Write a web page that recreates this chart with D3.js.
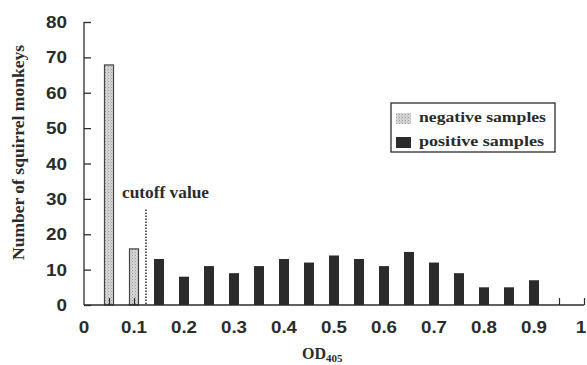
<!DOCTYPE html>
<html><head><meta charset="utf-8">
<script src="https://cdn.jsdelivr.net/npm/d3@7"></script>
<style>body{margin:0;background:#fff}svg{display:block}</style>
</head><body>
<svg id="c" width="587" height="365"></svg>
<script>
const negX = [0.05, 0.1];
const negVals = [68, 16];
const posX = [0.15,0.2,0.25,0.3,0.35,0.4,0.45,0.5,0.55,0.6,0.65,0.7,0.75,0.8,0.85,0.9];
const posVals = [13,8,11,9,11,13,12,14,13,11,15,12,9,5,5,7];
const xTickVals = [0,0.1,0.2,0.3,0.4,0.5,0.6,0.7,0.8,0.9,1];
const xTickLabels = ["0","0.1","0.2","0.3","0.4","0.5","0.6","0.7","0.8","0.9","1"];
const yTickVals = [0,10,20,30,40,50,60,70,80];
const cutoffX = 0.124, cutoffTop = 27;
const legendLabels = ["negative samples","positive samples"];

const svg = d3.select("#c");
const x = d3.scaleLinear().domain([0,1]).range([84,584]);
const y = d3.scaleLinear().domain([0,80]).range([305,22]);
const bw = x(0.02)-x(0);
const ink = "#2b2b2b";
const numLen = s => [...s].reduce((a,c)=>a+(c==="."?5:10.5),0);

// stipple pattern for negative bars
const defs = svg.append("defs");
const pat = defs.append("pattern").attr("id","stip").attr("patternUnits","userSpaceOnUse").attr("width",3).attr("height",3);
pat.append("rect").attr("width",3).attr("height",3).attr("fill","#d6d6d6");
pat.append("rect").attr("x",0).attr("y",0).attr("width",1).attr("height",1).attr("fill","#9a9a9a");
pat.append("rect").attr("x",2).attr("y",1.5).attr("width",1).attr("height",1).attr("fill","#b0b0b0");

// bars
svg.append("g").selectAll("rect").data(negX.map((d,i)=>({x:d,v:negVals[i]}))).join("rect")
  .attr("x",d=>x(d.x)-bw/2+0.5).attr("y",d=>y(d.v)+0.5)
  .attr("width",bw-1).attr("height",d=>y(0)-y(d.v)-0.5)
  .attr("fill","url(#stip)").attr("stroke","#444").attr("stroke-width",1.2);
svg.append("g").selectAll("rect").data(posX.map((d,i)=>({x:d,v:posVals[i]}))).join("rect")
  .attr("x",d=>x(d.x)-bw/2).attr("y",d=>y(d.v))
  .attr("width",bw).attr("height",d=>y(0)-y(d.v))
  .attr("fill",ink);

// y axis
const yAxis = d3.axisRight(y).tickValues(yTickVals).tickSize(7).tickFormat("");
const ga = svg.append("g").attr("transform",`translate(${x(0)},0)`).call(yAxis);
ga.select(".domain").attr("d",`M0,${y(80)}V${y(0)}`).attr("stroke",ink).attr("stroke-width",1.3);
ga.selectAll(".tick line").attr("stroke",ink).attr("stroke-width",1.3);
svg.append("g").selectAll("text").data(yTickVals).join("text")
  .attr("x",67).attr("y",d=>y(d)+6).attr("text-anchor","end")
  .attr("textLength",d=>numLen(String(d))).attr("lengthAdjust","spacingAndGlyphs")
  .attr("font-family","Liberation Sans, Arial, sans-serif").attr("font-size",16).attr("font-weight","bold")
  .attr("fill",ink).text(d=>d);

// x axis
const xtv = d3.range(1,21).map(i=>i*0.05);
const xAxis = d3.axisTop(x).tickValues(xtv).tickSize(7).tickFormat("");
const gx = svg.append("g").attr("transform",`translate(0,${y(0)})`).call(xAxis);
gx.select(".domain").attr("d",`M${x(0)},0H${x(1)}`).attr("stroke",ink).attr("stroke-width",1.3);
gx.selectAll(".tick line").attr("stroke",ink).attr("stroke-width",1.2);
svg.append("g").selectAll("text").data(xTickVals).join("text")
  .attr("x",(d)=>Math.min(x(d),581)).attr("y",333).attr("text-anchor","middle")
  .attr("textLength",(d,i)=>numLen(xTickLabels[i])).attr("lengthAdjust","spacingAndGlyphs")
  .attr("font-family","Liberation Sans, Arial, sans-serif").attr("font-size",16).attr("font-weight","bold")
  .attr("fill",ink).text((d,i)=>xTickLabels[i]);

// cutoff
svg.append("line").attr("x1",x(cutoffX)).attr("x2",x(cutoffX)).attr("y1",y(cutoffTop)).attr("y2",y(0))
  .attr("stroke",ink).attr("stroke-width",1.5).attr("stroke-dasharray","1.5,1.5");
svg.append("text").attr("x",122).attr("y",198).attr("textLength",87).attr("lengthAdjust","spacingAndGlyphs")
  .attr("font-family","Liberation Serif, Times New Roman, serif").attr("font-size",16).attr("font-weight","bold")
  .attr("fill",ink).text("cutoff value");

// axis titles
svg.append("text").attr("transform","translate(24,260) rotate(-90)").attr("textLength",215).attr("lengthAdjust","spacingAndGlyphs")
  .attr("font-family","Liberation Serif, Times New Roman, serif").attr("font-size",16).attr("font-weight","bold")
  .attr("fill",ink).text("Number of squirrel monkeys");
const od = svg.append("text").attr("x",302).attr("y",359)
  .attr("font-family","Liberation Serif, Times New Roman, serif").attr("font-weight","bold").attr("fill",ink);
od.append("tspan").attr("font-size",16).text("OD");
od.append("tspan").attr("font-size",11).attr("dy",3).text("405");

// legend
svg.append("rect").attr("x",391).attr("y",103).attr("width",164).attr("height",49)
  .attr("fill","#fff").attr("stroke",ink).attr("stroke-width",1.3);
const lg = svg.append("g");
lg.selectAll("rect").data(legendLabels).join("rect")
  .attr("x",396).attr("y",(d,i)=>113+i*24).attr("width",15).attr("height",11)
  .attr("fill",(d,i)=>i?ink:"url(#stip)");
lg.selectAll("text").data(legendLabels).join("text")
  .attr("x",419).attr("y",(d,i)=>122+i*24).attr("textLength",(d,i)=>i?125:127).attr("lengthAdjust","spacingAndGlyphs")
  .attr("font-family","Liberation Serif, Times New Roman, serif").attr("font-size",15).attr("font-weight","bold")
  .attr("fill",ink).text(d=>d);
</script>
</body></html>
